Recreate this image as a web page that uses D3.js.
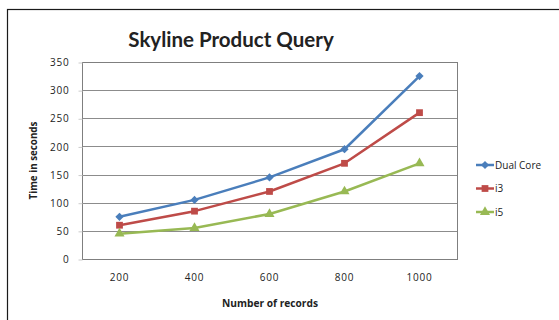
<!DOCTYPE html>
<html>
<head>
<meta charset="utf-8">
<script src="https://cdn.jsdelivr.net/npm/d3@7"></script>
<style>
  html, body { margin: 0; padding: 0; background: #fff; }
  svg { display: block; }
  text { font-family: "Open Sans", "DejaVu Sans", sans-serif; fill: #222; }
</style>
</head>
<body>
<svg id="chart" width="559" height="320"></svg>
<script>
// Chart data
const categories = ["200", "400", "600", "800", "1000"];
const seriesNames = ["Dual Core", "i3", "i5"];
const dualCore = [75, 105, 145, 195, 325];
const i3 = [60, 85, 120, 170, 260];
const i5 = [45, 55, 80, 120, 170];
const yTicks = [0, 50, 100, 150, 200, 250, 300, 350];

const seriesValues = [dualCore, i3, i5];
const colors = ["#4a7ebb", "#be4b48", "#98b954"];
// diamond = square turned 45 degrees
const shapes = [d3.symbolSquare, d3.symbolSquare, d3.symbolTriangle];
const rotations = [45, 0, 0];
const symbolSizes = [34, 46, 44];

const svg = d3.select("#chart");

// outer chart frame
svg.append("rect")
  .attr("x", 7.5).attr("y", 9.5)
  .attr("width", 600).attr("height", 400)
  .attr("fill", "#fff").attr("stroke", "#1a1a1a").attr("stroke-width", 1.2);

const plot = { left: 82, top: 62, right: 457, bottom: 259 };

const x = d3.scaleBand().domain(categories)
  .range([plot.left, plot.right]).paddingInner(0).paddingOuter(0);
const y = d3.scaleLinear().domain([0, 350]).range([plot.bottom, plot.top]);

// horizontal gridlines
svg.append("g")
  .selectAll("line")
  .data(yTicks.filter(d => d > 0))
  .join("line")
  .attr("x1", plot.left).attr("x2", plot.right)
  .attr("y1", d => Math.round(y(d)) + 0.5).attr("y2", d => Math.round(y(d)) + 0.5)
  .attr("stroke", "#8c8c8c").attr("stroke-width", 1);

// plot area border
svg.append("rect")
  .attr("x", plot.left + 0.5).attr("y", plot.top + 0.5)
  .attr("width", plot.right - plot.left).attr("height", plot.bottom - plot.top)
  .attr("fill", "none").attr("stroke", "#7f7f7f").attr("stroke-width", 1);

// y axis labels
const yAxis = d3.axisLeft(y).tickValues(yTicks).tickSize(4).tickPadding(9);
const gy = svg.append("g")
  .attr("transform", `translate(${plot.left + 0.5},0.5)`)
  .call(yAxis);
gy.select(".domain").remove();
gy.selectAll(".tick line").attr("stroke", "#ccc");
gy.selectAll(".tick text")
  .style("font-family", "'Open Sans', sans-serif")
  .style("font-size", "10px").style("letter-spacing", "0.8px")
  .attr("fill", "#444");

// x axis labels
const xAxis = d3.axisBottom(x).tickSize(0).tickPadding(15);
const gx = svg.append("g")
  .attr("transform", `translate(0,${plot.bottom})`)
  .call(xAxis);
gx.select(".domain").remove();
gx.selectAll(".tick text")
  .style("font-family", "'Open Sans', sans-serif")
  .style("font-size", "10px").style("letter-spacing", "0.8px")
  .attr("fill", "#444");

// series lines and markers
const line = d3.line()
  .x((d, i) => x(categories[i]) + x.bandwidth() / 2)
  .y(d => y(d));

seriesValues.forEach((vals, s) => {
  svg.append("path")
    .datum(vals)
    .attr("d", line)
    .attr("fill", "none")
    .attr("stroke", colors[s])
    .attr("stroke-width", 2.5)
    .attr("stroke-linejoin", "round");
  svg.append("g")
    .selectAll("path")
    .data(vals)
    .join("path")
    .attr("transform", (d, i) =>
      `translate(${x(categories[i]) + x.bandwidth() / 2},${y(d)}) rotate(${rotations[s]})`)
    .attr("d", d3.symbol().type(shapes[s]).size(symbolSizes[s]))
    .attr("fill", colors[s]);
});

// title
svg.append("text")
  .attr("x", 231).attr("y", 47)
  .attr("text-anchor", "middle")
  .style("font-family", "Lato, 'Open Sans', sans-serif")
  .style("font-weight", "bold").style("font-size", "20.5px")
  .attr("fill", "#111")
  .text("Skyline Product Query");

// axis titles
svg.append("text")
  .attr("x", 270).attr("y", 307)
  .attr("text-anchor", "middle")
  .style("font-weight", "bold").style("font-size", "10.2px")
  .attr("fill", "#222")
  .text("Number of records");

svg.append("text")
  .attr("transform", `translate(37,${(plot.top + plot.bottom) / 2}) rotate(-90)`)
  .attr("text-anchor", "middle")
  .style("font-weight", "bold").style("font-size", "9.8px")
  .attr("fill", "#222")
  .text("Time in seconds");

// legend
const legend = svg.append("g").attr("transform", "translate(476,0)");
seriesNames.forEach((name, s) => {
  const ly = 165 + s * 23.5;
  legend.append("line")
    .attr("x1", 0).attr("x2", 18).attr("y1", ly).attr("y2", ly)
    .attr("stroke", colors[s]).attr("stroke-width", 2.5);
  legend.append("path")
    .attr("transform", `translate(9,${ly}) rotate(${rotations[s]})`)
    .attr("d", d3.symbol().type(shapes[s]).size(symbolSizes[s]))
    .attr("fill", colors[s]);
  legend.append("text")
    .attr("x", 19).attr("y", ly + 3.5)
    .style("font-size", "10px").attr("fill", "#222")
    .text(name);
});
</script>
</body>
</html>
